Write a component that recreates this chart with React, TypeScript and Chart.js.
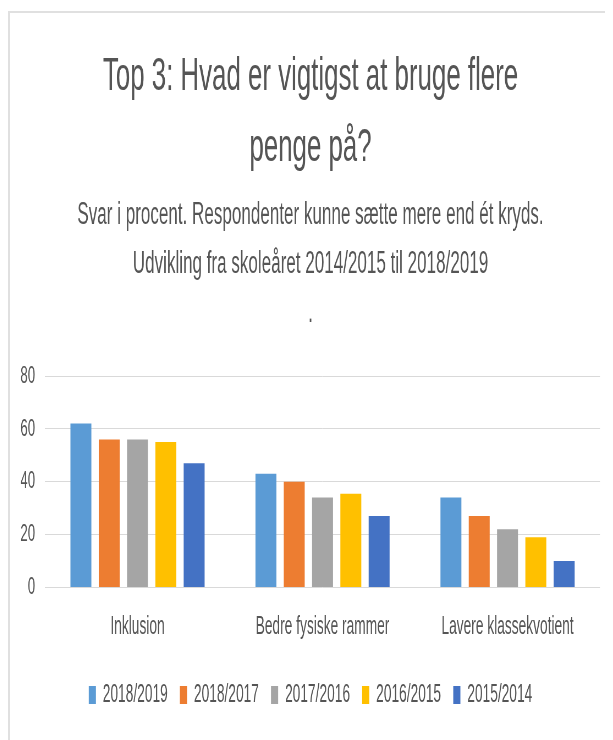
import React, { useEffect, useRef } from 'react';
import { Chart, registerables } from 'chart.js';

Chart.register(...registerables);

const categories = ['Inklusion', 'Bedre fysiske rammer', 'Lavere klassekvotient'];
const seriesLabels = ['2018/2019', '2018/2017', '2017/2016', '2016/2015', '2015/2014'];
const values2018_2019 = [62, 43, 34];
const values2018_2017 = [56, 40, 27];
const values2017_2016 = [56, 34, 22];
const values2016_2015 = [55, 35.5, 19];
const values2015_2014 = [47, 27, 10];
const seriesColors = ['#5B9BD5', '#ED7D31', '#A5A5A5', '#FFC000', '#4472C4'];
const titleLines = ['Top 3: Hvad er vigtigst at bruge flere', 'penge på?'];
const subtitleLines = [
  'Svar i procent. Respondenter kunne sætte mere end ét kryds.',
  'Udvikling fra skoleåret 2014/2015 til 2018/2019',
  '.',
];
const yMin = 0;
const yMax = 80;
const yStep = 20;

// the reference is a horizontally squeezed picture: draw wide, show narrow
const SQUEEZE = 0.55;
const DISPLAY_W = 605;
const DISPLAY_H = 732;
const LOGICAL_W = Math.round(DISPLAY_W / SQUEEZE);
const FONT = "'Liberation Sans', Arial, sans-serif";
const TEXT = '#555555';

export default function App() {
  const ref = useRef<HTMLCanvasElement | null>(null);

  useEffect(() => {
    if (!ref.current) return;
    const allValues = [values2018_2019, values2018_2017, values2017_2016, values2016_2015, values2015_2014];
    const chart = new Chart(ref.current, {
      type: 'bar',
      data: {
        labels: categories,
        datasets: seriesLabels.map((label, i) => ({
          label,
          data: allValues[i],
          backgroundColor: seriesColors[i],
          borderWidth: 0,
          categoryPercentage: 0.765,
          barPercentage: 0.74,
        })),
      },
      options: {
        responsive: false,
        animation: false,
        devicePixelRatio: 1,
        layout: { padding: { left: 23.6, right: 23.6, top: 0, bottom: 22.5 } },
        plugins: {
          title: {
            display: true,
            text: titleLines,
            color: TEXT,
            font: { family: FONT, size: 47, weight: 'normal', lineHeight: 71 / 47 },
            padding: { top: 33.5, bottom: 0 },
          },
          subtitle: {
            display: true,
            text: subtitleLines,
            color: TEXT,
            font: { family: FONT, size: 31, weight: 'normal', lineHeight: 49 / 31 },
            padding: { top: 7, bottom: 38.5 },
          },
          legend: {
            position: 'bottom',
            labels: {
              boxWidth: 13,
              boxHeight: 18,
              padding: 22,
              color: TEXT,
              font: { family: FONT, size: 25 },
            },
          },
          tooltip: { enabled: false },
        },
        scales: {
          x: {
            grid: { display: false },
            border: { display: false },
            ticks: { color: TEXT, font: { family: FONT, size: 25 }, padding: 17 },
            afterFit: (scale: any) => {
              scale.height = 73;
            },
          },
          y: {
            min: yMin,
            max: yMax,
            grid: { color: '#d9d9d9', lineWidth: 1, drawTicks: false },
            border: { display: false },
            ticks: { stepSize: yStep, color: TEXT, font: { family: FONT, size: 24 }, padding: 18 },
            afterFit: (scale: any) => {
              scale.width = 43.7;
            },
          },
        },
      },
    });
    return () => chart.destroy();
  }, []);

  return (
    <div style={{ position: 'relative', width: DISPLAY_W, height: DISPLAY_H, background: '#fff' }}>
      <div
        style={{
          position: 'absolute',
          left: 0,
          top: 3,
          width: DISPLAY_W + 10,
          height: DISPLAY_H + 10,
          borderTop: '2px solid #e0e0e0',
          borderLeft: '2px solid #e0e0e0',
          boxSizing: 'border-box',
        }}
      />
      <canvas
        ref={ref}
        width={LOGICAL_W}
        height={DISPLAY_H}
        style={{ position: 'absolute', left: 0, top: 0, width: DISPLAY_W + 'px', height: DISPLAY_H + 'px', display: 'block' }}
      />
    </div>
  );
}
